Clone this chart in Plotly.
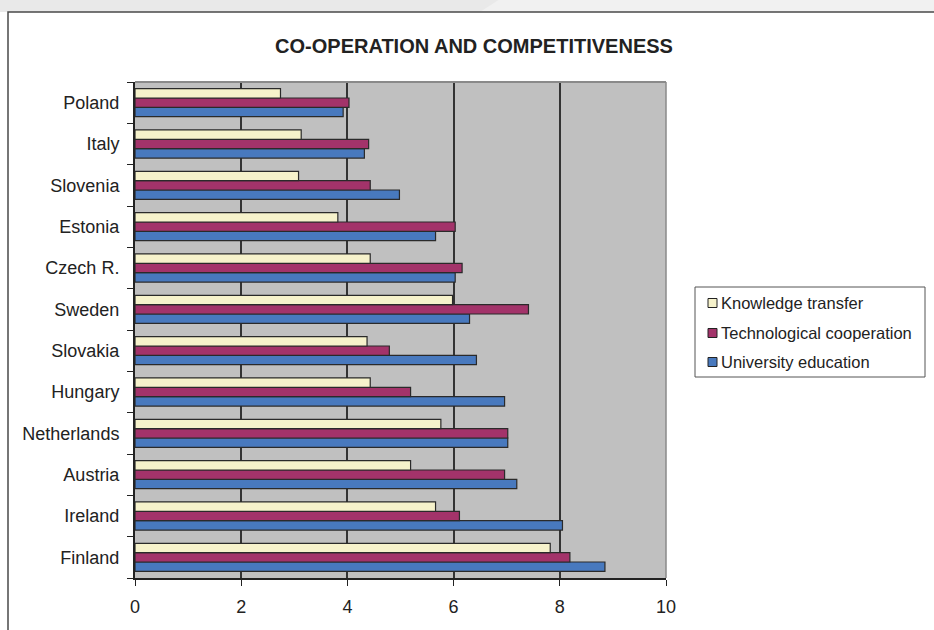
import plotly.graph_objects as go

countries = ["Finland", "Ireland", "Austria", "Netherlands", "Hungary", "Slovakia",
             "Sweden", "Czech R.", "Estonia", "Slovenia", "Italy", "Poland"]
knowledge_transfer = [7.82, 5.66, 5.19, 5.76, 4.43, 4.37, 5.98, 4.43, 3.82, 3.08, 3.13, 2.74]
tech_cooperation = [8.19, 6.11, 6.96, 7.02, 5.19, 4.79, 7.41, 6.16, 6.03, 4.43, 4.40, 4.03]
university_education = [8.85, 8.05, 7.19, 7.02, 6.96, 6.43, 6.30, 6.03, 5.66, 4.98, 4.32, 3.92]
series_names = ["Knowledge transfer", "Technological cooperation", "University education"]
series_colors = ["#f6f2cb", "#a3336a", "#4879be"]
x_ticks = [0, 2, 4, 6, 8, 10]

W, H = 934, 630
L, R, T, B = 135, 666, 82, 578

def px(x):
    return (x - L) / (R - L)

def py(y):
    return (B - y) / (B - T)

fig = go.Figure()
series_vals = [knowledge_transfer, tech_cooperation, university_education]
# add in reverse so Knowledge transfer sits on top within each group
for name, vals, col in reversed(list(zip(series_names, series_vals, series_colors))):
    fig.add_trace(go.Bar(
        y=countries, x=vals, name=name, orientation="h", showlegend=False,
        marker=dict(color=col, line=dict(color="#2a2a2a", width=1.2)),
    ))

shapes = [
    dict(type="rect", xref="paper", yref="paper", x0=px(-5), x1=px(W + 5), y0=py(12), y1=py(-5),
         fillcolor="#e9e9e9", line=dict(width=0), layer="below"),
    dict(type="path", xref="paper", yref="paper",
         path=f"M {px(500)} {py(-1)} L {px(W+5)} {py(-1)} L {px(W+5)} {py(12)} L {px(480)} {py(12)} Z",
         fillcolor="#f1f1f1", line=dict(width=0), layer="below"),
    dict(type="rect", xref="paper", yref="paper", x0=px(8), x1=px(W + 20), y0=py(H + 20), y1=py(12),
         fillcolor="rgba(0,0,0,0)", line=dict(color="#4a4a4a", width=1.5), layer="above"),
    dict(type="line", xref="paper", yref="paper", x0=0, x1=1, y0=1, y1=1,
         line=dict(color="#8a8a8a", width=2), layer="above"),
    dict(type="line", xref="paper", yref="paper", x0=1, x1=1, y0=0, y1=1,
         line=dict(color="#8a8a8a", width=1.5), layer="above"),
    # legend box
    dict(type="rect", xref="paper", yref="paper", x0=px(695), x1=px(925), y0=py(377), y1=py(287),
         fillcolor="white", line=dict(color="#555555", width=1), layer="above"),
]
annotations = []
row_y = [303, 333, 362]
for name, col, yy in zip(series_names, series_colors, row_y):
    shapes.append(dict(type="rect", xref="paper", yref="paper",
                       x0=px(708), x1=px(717), y0=py(yy + 4.5), y1=py(yy - 4.5),
                       fillcolor=col, line=dict(color="#222222", width=1), layer="above"))
    annotations.append(dict(text=name, xref="paper", yref="paper", x=px(719), y=py(yy),
                            xanchor="left", yanchor="middle", showarrow=False,
                            font=dict(size=16.5, color="#222222")))

fig.update_layout(
    width=W, height=H,
    margin=dict(l=L, r=W - R, t=T, b=H - B, pad=0),
    paper_bgcolor="white",
    plot_bgcolor="#c0c0c0",
    barmode="group",
    bargap=0.32,
    bargroupgap=0,
    font=dict(family="Liberation Sans, Arial, sans-serif", color="#222222", size=18),
    title=dict(text="<b>CO-OPERATION AND COMPETITIVENESS</b>", x=474 / W, xanchor="center",
               y=1 - 46 / H, yanchor="middle", yref="container",
               font=dict(size=20, color="#222222")),
    xaxis=dict(range=[0, 10], tickvals=x_ticks, ticks="outside", ticklen=6, tickcolor="#222",
               showline=True, linecolor="#222", linewidth=2, showgrid=True, gridcolor="#333333",
               gridwidth=1.5, zeroline=False, tickfont=dict(size=18), ticklabelstandoff=5),
    yaxis=dict(type="category", categoryorder="array", categoryarray=countries,
               ticks="outside", tickson="boundaries", ticklen=6, tickcolor="#222",
               showline=True, linecolor="#222", linewidth=2, showgrid=False,
               ticklabelstandoff=10, tickfont=dict(size=18)),
    shapes=shapes,
    annotations=annotations,
    showlegend=False,
)

fig.write_html("out.html", config={"displayModeBar": False},
               post_script="document.body.style.margin='0';document.body.style.padding='0';")
